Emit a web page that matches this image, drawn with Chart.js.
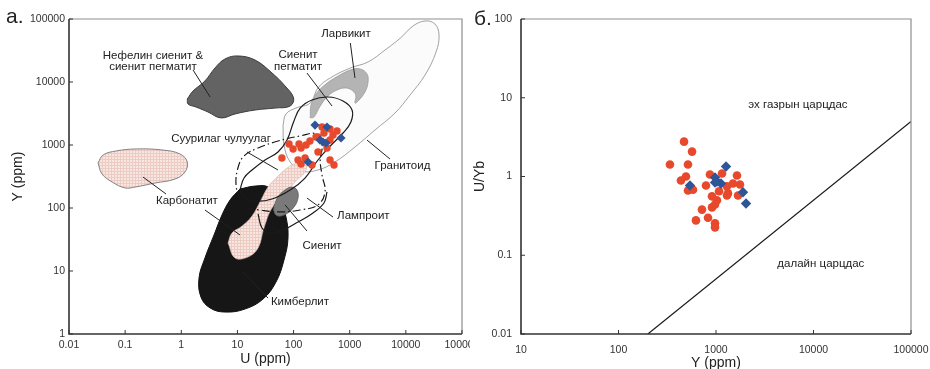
<!DOCTYPE html>
<html>
<head>
<meta charset="utf-8">
<script src="https://cdn.jsdelivr.net/npm/chart.js@4.4.1/dist/chart.umd.min.js"></script>
<style>
    html, body { margin: 0; padding: 0; background: #fff; }
    #wrap { position: relative; width: 930px; height: 369px; overflow: hidden; }
    #left { position: absolute; left: 0; top: 0; }
    #right { position: absolute; left: 470px; top: 0; }
</style>
</head>
<body>
<div id="wrap">
    <canvas id="left" width="470" height="369"></canvas>
    <canvas id="right" width="460" height="369"></canvas>
</div>
<script>
// Tick values
const uTicks = [0.01, 0.1, 1, 10, 100, 1000, 10000, 100000];
const yTicksLeft = [1, 10, 100, 1000, 10000, 100000];
const yTicksRight = [10, 100, 1000, 10000, 100000];
const uybTicks = [0.01, 0.1, 1, 10, 100];

// Panel a: field outlines as [U, Y] (ppm)
const granitoid = [[64.9,2075],[73.3,3110],[110,3860],[198,4640],[272,8040],[450,11600],[1025,16700],[2120,20800],[4260,32200],[8000,49900],[13400,77400],[21900,93000],[33000,83300],[39000,55700],[34500,29900],[21900,12900],[11900,6220],[6410,3220],[2820,1730],[1240,929],[547,537],[272,401],[141,386],[87,537],[67.6,1000]];
const nephelineSyenite = [[1.28,5370],[1.62,7190],[2.64,10400],[3.99,16700],[6.0,23200],[10.2,25900],[20.6,22300],[41.3,13900],[70.5,8650],[100,5570],[87,4160],[46.7,3860],[20.6,3590],[9.06,3110],[5.1,2690],[2.99,3340],[1.83,4010],[1.32,4480]];
const carbonatiteLeft = [[0.0329,518],[0.0404,693],[0.0687,803],[0.156,865],[0.454,834],[0.95,720],[1.28,537],[1.16,372],[0.773,288],[0.34,249],[0.15,215],[0.1,208],[0.0584,259],[0.0387,347]];
const kimberlite = [[11.1,200],[20.6,223],[35.1,215],[57.3,134],[73.3,71.9],[79.6,33.4],[67.6,15.0],[48.6,6.68],[28.6,3.59],[13.6,2.49],[6.0,2.23],[3.26,2.59],[2.24,3.86],[2.07,7.74],[2.64,16.1],[3.83,37.3],[5.31,77.4],[7.4,134]];
const carbonatiteDiag = [[6.79,27.8],[8.0,40.1],[12.1,51.7],[18.2,74.6],[26.3,134],[35.1,215],[50.7,310],[76.4,431],[115,518],[167,499],[160,372],[106,259],[67.6,155],[41.3,100],[29.7,48.2],[23.3,23.2],[15.4,16.7],[9.06,16.1]];
const syenite = [[44.9,108],[52.8,150],[70.5,193],[93.7,215],[115,193],[120,144],[102,104],[73.3,80.3],[52.8,74.6],[44.9,86.5]];
const larvikite = [[198,2690],[205,4320],[251,6460],[378,9300],[619,12400],[1025,15500],[1540,16100],[2030,13400],[2120,10000],[1870,6940],[1410,4990],[1240,4640],[1290,6000],[1140,7190],[859,8040],[594,7460],[411,6000],[298,4160],[231,2780]];
const syenitePegmatite = [[11.1,193],[13.1,299],[18.2,401],[31.0,578],[52.8,775],[76.4,1200],[100,2320],[131,3860],[213,5180],[411,5780],[760,4990],[1100,3590],[1050,2320],[760,1550],[450,964],[272,578],[160,299],[87,193],[41.3,139],[20.6,129],[12.6,155]];
const basicRocks = [[11.1,134],[9.44,232],[10.2,431],[13.1,668],[23.3,895],[52.8,1156],[131,1390],[251,1500],[321,1000],[298,578],[321,334],[363,180],[272,112],[131,93],[57.3,86.5],[25.4,93],[13.6,104]];
const lamproite = [[23.3,80.3],[27.4,48.2],[38.0,40.1],[64.9,44.8],[120,60.0],[222,83.4],[348,120],[394,180]];

// Panel a: samples
const leftRedU = [62, 83, 98, 125, 136, 167, 196, 251, 321, 446, 594, 272, 348, 446, 504, 272, 446, 525, 120, 136, 160, 213, 394];
const leftRedY = [622, 1038, 866, 1038, 895, 1000, 1156, 1339, 1931, 1796, 1668, 1339, 1549, 1199, 1442, 775, 578, 482, 578, 499, 622, 482, 895];
const leftBlueU = [241, 394, 296, 334, 378, 700, 181];
const leftBlueY = [2075, 1931, 1199, 1116, 1076, 1291, 537];

// Panel б: samples
const rightRedY = [470, 568, 337, 516, 492, 437, 516, 581, 867, 789, 1153, 1641, 1761, 1493, 1296, 1075, 910, 1327, 1296, 1682, 1023, 910, 977, 718, 828, 623, 977, 977];
const rightRedUYb = [2.77, 2.07, 1.42, 1.42, 1.0, 0.89, 0.665, 0.68, 1.06, 0.77, 1.09, 1.03, 0.79, 0.815, 0.75, 0.65, 0.56, 0.61, 0.575, 0.575, 0.50, 0.405, 0.44, 0.38, 0.30, 0.277, 0.254, 0.226];
const rightBlueY = [541, 1267, 977, 1023, 1125, 977, 1892, 2032];
const rightBlueUYb = [0.77, 1.34, 0.97, 0.865, 0.815, 0.84, 0.63, 0.455];

// Continental / oceanic crust boundary
const boundaryY = [200, 100000];
const boundaryUYb = [0.01, 5];

// Labels (text at data position) and leader lines
const leftLabels = [
    { text: 'Нефелин сиенит &', x: 0.313, y: 26000 },
    { text: 'сиенит пегматит', x: 0.313, y: 17300 },
    { text: 'Ларвикит', x: 859, y: 58000 },
    { text: 'Сиенит', x: 120, y: 26800 },
    { text: 'пегматит', x: 120, y: 17300 },
    { text: 'Суурилаг чулуулаг', x: 5.1, y: 1250 },
    { text: 'Гранитоид', x: 8700, y: 464 },
    { text: 'Карбонатит', x: 1.26, y: 129 },
    { text: 'Лампроит', x: 1750, y: 74.6 },
    { text: 'Сиенит', x: 321, y: 24.9 },
    { text: 'Кимберлит', x: 130, y: 3.22 }
];
const leftLeaders = [
    [[1.62, 15500], [3.26, 5780]],
    [[1025, 41600], [1240, 11600]],
    [[173, 13900], [484, 4160]],
    [[14.8, 775], [52.8, 401]],
    [[5220, 599], [2030, 1200]],
    [[0.535, 167], [0.208, 310]],
    [[2.64, 92.9], [11.1, 37.3]],
    [[504, 71.9], [173, 144]],
    [[173, 43.2], [70.5, 112]],
    [[35.1, 3.72], [12.6, 9.64]]
];
const rightLabels = [
    { text: 'эх газрын царцдас', x: 6930, y: 8.15 },
    { text: 'далайн царцдас', x: 11900, y: 0.0769 }
];

const FONT = '"Liberation Sans", Arial, sans-serif';
Chart.defaults.font.family = FONT;
Chart.defaults.color = '#333';

function pts(xs, ys) {
    return xs.map((v, i) => ({ x: v, y: ys[i] }));
}
function loop(arr) {
    return arr.concat([arr[0]]).map(([x, y]) => ({ x, y }));
}

function gridPattern(ctx) {
    const c = document.createElement('canvas');
    c.width = 3; c.height = 3;
    const g = c.getContext('2d');
    g.fillStyle = '#f8e6e2';
    g.fillRect(0, 0, 3, 3);
    g.fillStyle = '#eccbc3';
    g.fillRect(0, 0, 3, 1);
    g.fillRect(0, 0, 1, 3);
    return ctx.createPattern(c, 'repeat');
}

function field(data, fillColor, borderColor, order, width) {
    return {
        data: loop(data), showLine: true, fill: 'shape', tension: 0.4,
        backgroundColor: fillColor, borderColor: borderColor, borderWidth: width || 1,
        pointRadius: 0, order: order
    };
}
function outline(data, closed, dash, order) {
    return {
        data: closed ? loop(data) : data.map(([x, y]) => ({ x, y })),
        showLine: true, fill: false, tension: 0.4,
        borderColor: '#1a1a1a', borderWidth: 1.2, borderDash: dash,
        pointRadius: 0, order: order
    };
}

const overlay = {
    id: 'overlay',
    afterDatasetsDraw(chart, args, o) {
        const { ctx, chartArea: a, scales: { x, y } } = chart;
        ctx.save();
        // leader lines
        ctx.strokeStyle = '#222';
        ctx.lineWidth = 1;
        (o.leaders || []).forEach(([p, q]) => {
            ctx.beginPath();
            ctx.moveTo(x.getPixelForValue(p[0]), y.getPixelForValue(p[1]));
            ctx.lineTo(x.getPixelForValue(q[0]), y.getPixelForValue(q[1]));
            ctx.stroke();
        });
        // field labels
        ctx.fillStyle = '#222';
        ctx.font = '11.5px ' + FONT;
        ctx.textAlign = 'center';
        ctx.textBaseline = 'middle';
        (o.labels || []).forEach(l => {
            ctx.fillText(l.text, x.getPixelForValue(l.x), y.getPixelForValue(l.y));
        });
        // frame: light top/right, dark left/bottom
        ctx.strokeStyle = '#8e8e8e';
        ctx.lineWidth = 1.2;
        ctx.beginPath();
        ctx.moveTo(a.left, a.top);
        ctx.lineTo(a.right, a.top);
        ctx.lineTo(a.right, a.bottom);
        ctx.stroke();
        ctx.strokeStyle = '#333';
        ctx.lineWidth = 1.6;
        ctx.beginPath();
        ctx.moveTo(a.left, a.top);
        ctx.lineTo(a.left, a.bottom);
        ctx.lineTo(a.right, a.bottom);
        ctx.stroke();
        // inward tick marks
        ctx.lineWidth = 1;
        x.ticks.forEach(t => {
            const px = x.getPixelForValue(t.value);
            ctx.beginPath(); ctx.moveTo(px, a.bottom); ctx.lineTo(px, a.bottom - 4); ctx.stroke();
        });
        y.ticks.forEach(t => {
            const py = y.getPixelForValue(t.value);
            ctx.beginPath(); ctx.moveTo(a.left, py); ctx.lineTo(a.left + 4, py); ctx.stroke();
        });
        // axis titles
        ctx.fillStyle = '#222';
        ctx.font = '14px ' + FONT;
        ctx.fillText(o.xTitle, (a.left + a.right) / 2, o.xTitleY);
        ctx.save();
        ctx.translate(o.yTitleX, (a.top + a.bottom) / 2);
        ctx.rotate(-Math.PI / 2);
        ctx.fillText(o.yTitle, 0, 0);
        ctx.restore();
        // panel letter
        ctx.font = '21px ' + FONT;
        ctx.textAlign = 'left';
        ctx.textBaseline = 'alphabetic';
        ctx.fillText(o.letter, o.letterX, o.letterY);
        ctx.restore();
    }
};

function logAxis(min, max, ticks, size, pad, horizontal) {
    return {
        type: 'logarithmic', min: min, max: max,
        grid: { display: false, drawTicks: false },
        border: { display: false },
        ticks: {
            autoSkip: false, maxRotation: 0, padding: pad,
            font: { size: 10.5 }, color: '#333',
            callback: v => String(v)
        },
        afterBuildTicks: s => { s.ticks = ticks.map(v => ({ value: v })); },
        afterFit: s => {
            if (horizontal) s.height = size; else s.width = size;
            s.paddingLeft = 0; s.paddingRight = 0; s.paddingTop = 0; s.paddingBottom = 0;
        }
    };
}

const baseOptions = {
    responsive: false,
    animation: false,
    events: [],
    plugins: { legend: { display: false }, tooltip: { enabled: false } }
};

// Panel a
const ctxL = document.getElementById('left').getContext('2d');
const pink = gridPattern(ctxL);
new Chart(ctxL, {
    type: 'scatter',
    data: {
        datasets: [
            { data: pts(leftBlueU, leftBlueY), pointStyle: 'rectRot', pointRadius: 4.6, backgroundColor: '#2e5597', borderWidth: 0, order: 0 },
            { data: pts(leftRedU, leftRedY), pointStyle: 'circle', pointRadius: 3.7, backgroundColor: '#e8482b', borderWidth: 0, order: 1 },
            outline(lamproite, false, [], 2),
            outline(syenitePegmatite, true, [], 3),
            outline(basicRocks, true, [8, 3, 1.5, 3], 4),
            field(larvikite, '#b4b4b4', '#9a9a9a', 5, 0.8),
            field(syenite, '#7a7a7a', '#5a5a5a', 6, 0.8),
            field(carbonatiteDiag, pink, '#d9b8b0', 7, 0.6),
            field(kimberlite, '#161616', '#111', 8, 1),
            field(nephelineSyenite, '#636363', '#3c3c3c', 9, 1),
            field(carbonatiteLeft, pink, '#777', 10, 0.9),
            field(granitoid, '#fbfbfb', '#8a8a8a', 11, 0.8)
        ]
    },
    options: Object.assign({}, baseOptions, {
        layout: { padding: { top: 19, right: 8, left: 0, bottom: 0 } },
        scales: {
            x: logAxis(0.01, 100000, uTicks, 35, 5, true),
            y: logAxis(1, 100000, yTicksLeft, 69, 4, false)
        },
        plugins: {
            legend: { display: false }, tooltip: { enabled: false },
            overlay: {
                labels: leftLabels, leaders: leftLeaders,
                xTitle: 'U (ppm)', xTitleY: 359, yTitle: 'Y (ppm)', yTitleX: 18,
                letter: 'а.', letterX: 6, letterY: 23
            }
        }
    }),
    plugins: [overlay]
});

// Panel б
const ctxR = document.getElementById('right').getContext('2d');
new Chart(ctxR, {
    type: 'scatter',
    data: {
        datasets: [
            { data: pts(rightBlueY, rightBlueUYb), pointStyle: 'rectRot', pointRadius: 5.2, backgroundColor: '#2e5597', borderWidth: 0, order: 0 },
            { data: pts(rightRedY, rightRedUYb), pointStyle: 'circle', pointRadius: 4.3, backgroundColor: '#e8482b', borderWidth: 0, order: 1 },
            { data: pts(boundaryY, boundaryUYb), showLine: true, borderColor: '#1a1a1a', borderWidth: 1.2, pointRadius: 0, order: 2 }
        ]
    },
    options: Object.assign({}, baseOptions, {
        layout: { padding: { top: 19, right: 19, left: 0, bottom: 0 } },
        scales: {
            x: logAxis(10, 100000, yTicksRight, 35, 10, true),
            y: logAxis(0.01, 100, uybTicks, 51, 9, false)
        },
        plugins: {
            legend: { display: false }, tooltip: { enabled: false },
            overlay: {
                labels: rightLabels, leaders: [],
                xTitle: 'Y (ppm)', xTitleY: 363, yTitle: 'U/Yb', yTitleX: 10,
                letter: 'б.', letterX: 4, letterY: 25
            }
        }
    }),
    plugins: [overlay]
});
</script>
</body>
</html>
